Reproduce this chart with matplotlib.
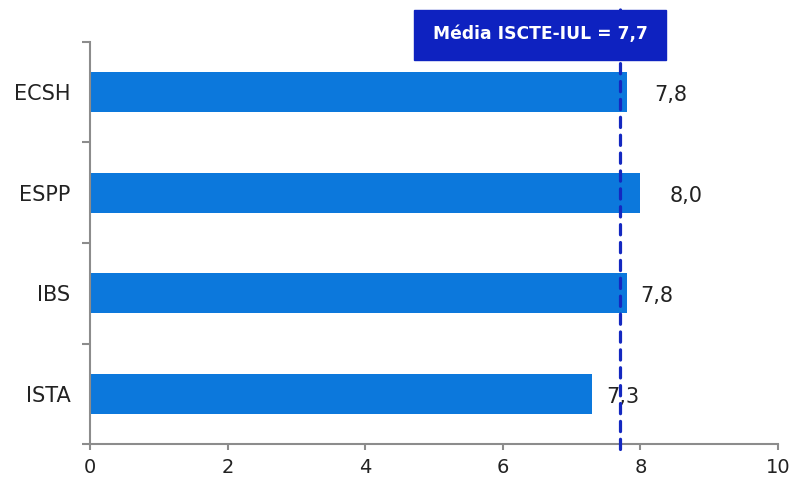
import matplotlib.pyplot as plt
from matplotlib.patches import Rectangle
from matplotlib.ticker import FixedLocator

# Dados
escolas = ["ECSH", "ESPP", "IBS", "ISTA"]
medias = [7.8, 8.0, 7.8, 7.3]
rotulos = ["7,8", "8,0", "7,8", "7,3"]
media_iscte = 7.7
texto_media = "Média ISCTE-IUL = 7,7"

# deslocamento dos rótulos (pontos), como no original
desloc_rotulos = [20, 21, 10, 10]

COR_BARRA = "#0c78dc"
COR_LINHA = "#1428c0"
COR_CAIXA = "#0e22c0"
COR_EIXO = "#8c8c8c"

plt.rcParams['font.family'] = ['DejaVu Sans']

fig = plt.figure(figsize=(7.91, 4.82), dpi=100)
ax = fig.add_axes([90 / 791, 38 / 482, 688 / 791, 402 / 482])

pos = list(range(len(escolas)))
ax.barh(pos, medias, height=0.4, color=COR_BARRA)

for p, v, r, d in zip(pos, medias, rotulos, desloc_rotulos):
    ax.annotate(r, (v, p), xytext=(d, -2), textcoords="offset points",
                ha="left", va="center", fontsize=15, color="#222222")

ax.set_xlim(0, 10)
ax.set_ylim(len(escolas) - 0.5, -0.5)
ax.set_xticks([0, 2, 4, 6, 8, 10])
ax.set_yticks(pos)
ax.set_yticklabels(escolas)
ax.yaxis.set_minor_locator(FixedLocator([i - 0.5 for i in range(len(escolas) + 1)]))
ax.tick_params(axis="y", which="major", length=0, pad=14, labelsize=15, labelcolor="#222222")
ax.tick_params(axis="y", which="minor", length=6, width=1.5, color=COR_EIXO)
ax.tick_params(axis="x", length=4, width=1.5, color=COR_EIXO, labelsize=14,
               labelcolor="#222222", pad=6)

for s in ["top", "right"]:
    ax.spines[s].set_visible(False)
for s in ["left", "bottom"]:
    ax.spines[s].set_color(COR_EIXO)
    ax.spines[s].set_linewidth(1.5)

# linha da média (prolonga-se acima do eixo até à caixa)
ax.plot([media_iscte, media_iscte], [len(escolas) - 0.5 + 0.05, -0.5 - 0.33],
        color=COR_LINHA, lw=2.3, ls=(0, (3.2, 2.4)), dash_capstyle="round",
        clip_on=False, zorder=3)

# caixa da legenda
fig.patches.append(Rectangle((414 / 791, 1 - 60 / 482), 252 / 791, 50 / 482,
                             transform=fig.transFigure, color=COR_CAIXA, zorder=5))
fig.text(540 / 791, 1 - 34 / 482, texto_media, color="white", fontsize=12.3,
         fontweight="semibold", ha="center", va="center", zorder=6)

fig.savefig("out.png", dpi=100)
